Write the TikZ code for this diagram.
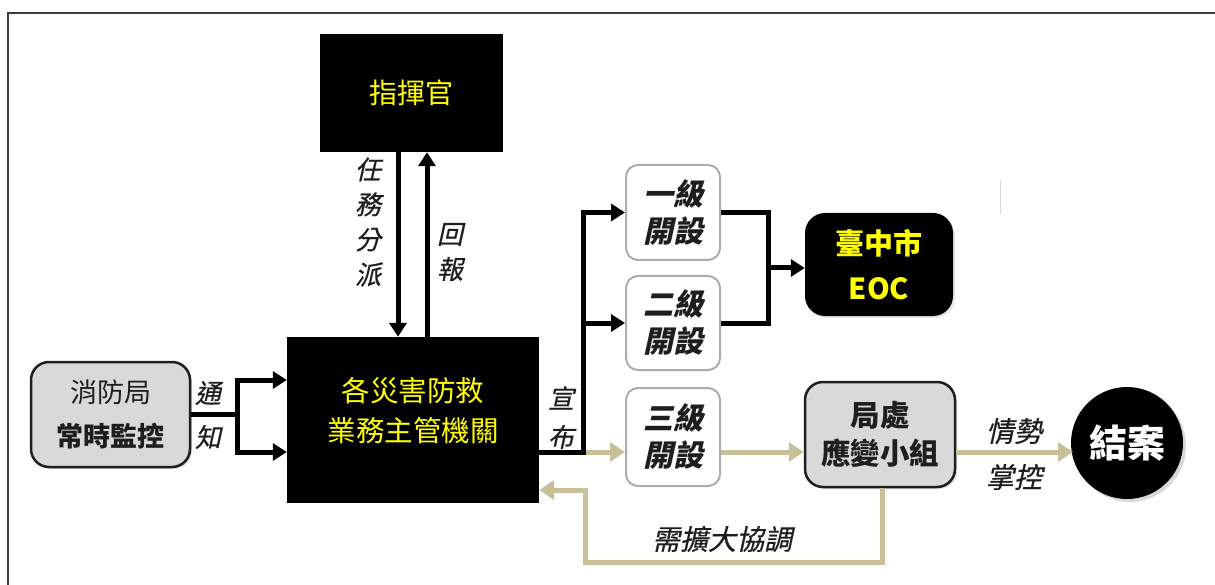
\documentclass[tikz,border=0pt]{standalone}
\usepackage{fontspec}
\setmainfont{Noto Sans CJK TC}
\newfontfamily\slfont{Noto Sans CJK TC}[FakeSlant=0.22]
\newfontfamily\lblfont{Noto Sans CJK TC}[FakeSlant=0.22,FakeBold=0.6]
\usetikzlibrary{arrows.meta,shadows,calc}
\definecolor{khaki}{RGB}{200,192,152}
\definecolor{boxgray}{RGB}{217,217,217}
\definecolor{txtdark}{RGB}{30,30,30}
\definecolor{ylw}{RGB}{255,255,0}
\definecolor{framegray}{RGB}{60,60,60}
\tikzset{
  blackbox/.style={rectangle, fill=black, text=ylw, inner sep=0pt, align=center},
  levelbox/.style={rectangle, rounded corners=12pt, draw=gray!65, line width=2pt, fill=white,
    minimum width=94pt, inner sep=0pt, align=center, text=txtdark,
    font=\slfont\bfseries\fontsize{30}{37}\selectfont},
  graybox/.style={rectangle, rounded corners=18pt, draw=txtdark, line width=2.5pt, fill=boxgray,
    inner sep=0pt, align=center, text=txtdark,
    drop shadow={opacity=0.25, shadow xshift=2pt, shadow yshift=-2pt}},
  lbl/.style={text=txtdark, inner sep=0pt, align=center, font=\lblfont\fontsize{26}{35}\selectfont},
  blk/.style={draw=black, line width=5pt},
  blkarr/.style={blk, -{Triangle[width=17pt,length=14pt]}},
  kh/.style={draw=khaki, line width=5pt},
  kharr/.style={kh, -{Triangle[width=19pt,length=15pt]}},
}
\begin{document}
\begin{tikzpicture}[x=1pt,y=-1pt]
\useasboundingbox (0,0) rectangle (1215,585);
% outer frame
\draw[framegray, line width=1.5pt] (8,585) -- (8,13) -- (1215,13);
\draw[gray!30, line width=1pt] (1000,180) -- (1000,214);

% nodes
\node[blackbox, minimum width=183pt, minimum height=118pt,
  font=\fontsize{28}{36}\selectfont] (chief) at (411.5,93) {指揮官};
\node[blackbox, minimum width=252pt, minimum height=166pt,
  font=\fontsize{28.5}{40}\selectfont] (main) at (413,420) {\raisebox{3pt}[0pt][0pt]{\parbox{245pt}{\centering 各災害防救\\業務主管機關}}};
\node[graybox, minimum width=159pt, minimum height=105pt,
  font=\fontsize{27}{44}\selectfont] (fire) at (110.5,414.5)
  {消防局\\\textbf{常時監控}};
\node[levelbox, minimum height=95pt] (l1) at (673,212.5) {一級\\開設};
\node[levelbox, minimum height=94pt] (l2) at (673,323) {二級\\開設};
\node[levelbox, minimum height=98pt] (l3) at (673,437) {三級\\開設};
\node[rectangle, rounded corners=20pt, fill=black, minimum width=148pt, minimum height=103pt,
  inner sep=0pt, align=center, text=ylw, font=\bfseries\fontsize{29}{45}\selectfont,
  drop shadow={opacity=0.2, shadow xshift=2pt, shadow yshift=-2pt}] (eoc) at (879,264.5) {臺中市\\EOC};
\node[graybox, rounded corners=18pt, minimum width=150pt, minimum height=105pt,
  font=\bfseries\fontsize{29.5}{38}\selectfont] (dept) at (880,434.5) {局處\\應變小組};
\node[circle, fill=black, minimum size=112pt, inner sep=0pt, text=white,
  font=\bfseries\fontsize{38}{40}\selectfont,
  drop shadow={opacity=0.3, shadow xshift=3pt, shadow yshift=-3pt}] (end) at (1127,443) {結案};

% helper coordinates
\coordinate (n1) at (237,380);
\coordinate (n2) at (237,452);
\coordinate (dx) at (398,0);
\coordinate (ux) at (427,0);
\coordinate (p) at (583,452);
\coordinate (q) at (768,268);
\coordinate (f1) at (882,562);
\coordinate (f2) at (585,490);
\coordinate (endpt) at (1073,452);

% connectors
\draw[blkarr] (fire.east) -| (n1) -- (n1 -| main.west);
\draw[blkarr] (fire.east) -| (n2) -- (n2 -| main.west);
\draw[blkarr] (chief.south -| dx) -- (main.north -| dx);
\draw[blkarr] (main.north -| ux) -- (chief.south -| ux);
\draw[kharr] (p) -- (p -| l3.west);
\draw[blkarr] (main.east |- p) -- (p) |- (l1.west);
\draw[blkarr] (p) |- (l2.west);
\draw[blk] (l1.east) -| (q);
\draw[blk] (l2.east) -| (q);
\draw[blkarr] (q) -- (q -| eoc.west);
\draw[kharr] (l3.east |- p) -- (dept.west |- p);
\draw[kharr] (dept.east |- p) -- (endpt);
\draw[kharr] (dept.south -| f1) -- (f1) -| (f2) -- (f2 -| main.east);

% labels
\node[lbl] (ltong) at (208,393) {通};
\node[lbl] (lzhi) at (208,437) {知};
\node[lbl] (lxuan) at (561,398) {宣};
\node[lbl] (lbu) at (561,437) {布};
\node[lbl] (lrenwu) at (368,222) {任\\務\\分\\派};
\node[lbl] (lhuibao) at (450,252) {回\\報};
\node[lbl, font=\lblfont\fontsize{28}{46}\selectfont] (lqing) at (1014,454) {情勢\\掌控};
\node[lbl, font=\lblfont\fontsize{28}{36}\selectfont] (lxu) at (722,539) {需擴大協調};
\end{tikzpicture}
\end{document}
